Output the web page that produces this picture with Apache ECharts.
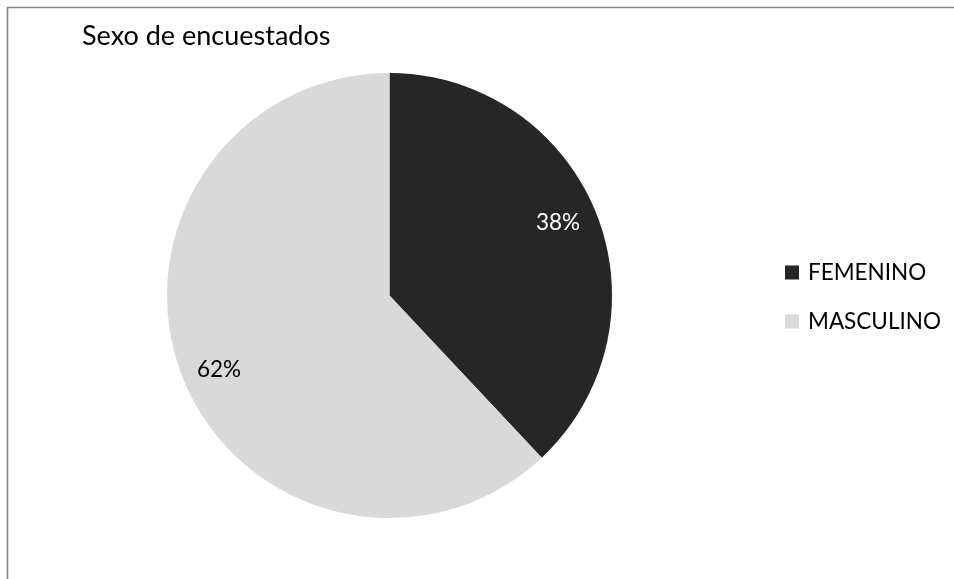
<!DOCTYPE html>
<html>
<head>
<meta charset="utf-8">
<script src="https://cdn.jsdelivr.net/npm/echarts@6/dist/echarts.min.js"></script>
<style>
  html, body { margin: 0; padding: 0; background: #fff; }
  #chart { width: 954px; height: 579px; }
</style>
</head>
<body>
<div id="chart"></div>
<script>
// Survey respondents by sex (percent)
const categories = ['FEMENINO', 'MASCULINO'];
const values = [38, 62];
const sliceColors = ['#262626', '#d9d9d9'];
const labelColors = ['#ffffff', '#000000'];
const labelShift = [[0, -6], [-2, 8]];

const font = 'Lato, "Open Sans", sans-serif';
const pieData = categories.map((name, i) => ({
  name,
  value: values[i],
  itemStyle: { color: sliceColors[i] }
}));

const chart = echarts.init(document.getElementById('chart'));
chart.setOption({
  animation: false,
  title: {
    text: 'Sexo de encuestados',
    left: 77,
    top: 18,
    textStyle: { fontFamily: font, fontSize: 27, fontWeight: 'normal', color: '#000' }
  },
  legend: {
    orient: 'vertical',
    left: 780,
    top: 256,
    icon: 'rect',
    itemWidth: 14,
    itemHeight: 14,
    itemGap: 26,
    data: categories,
    textStyle: { fontFamily: font, fontSize: 22.5, color: '#000', lineHeight: 20, padding: [0, 0, 0, 4] }
  },
  graphic: [
    { type: 'line', shape: { x1: 7, y1: 7.5, x2: 954, y2: 7.5 }, style: { stroke: '#858585', lineWidth: 1.6 } },
    { type: 'line', shape: { x1: 7.5, y1: 7, x2: 7.5, y2: 579 }, style: { stroke: '#858585', lineWidth: 1.6 } }
  ],
  series: [
    {
      type: 'pie',
      center: [389.5, 295.5],
      radius: [0, 222.5],
      startAngle: 90,
      clockwise: true,
      label: { show: false },
      labelLine: { show: false },
      emphasis: { disabled: true },
      data: pieData
    },
    {
      // transparent ring that carries the percentage labels further out
      type: 'pie',
      center: [389.5, 295.5],
      radius: [134, 222.5],
      startAngle: 90,
      clockwise: true,
      silent: true,
      label: {
        show: true,
        position: 'inside',
        formatter: p => p.value + '%',
        fontFamily: font,
        fontSize: 22.5
      },
      labelLine: { show: false },
      emphasis: { disabled: true },
      data: categories.map((name, i) => ({
        name,
        value: values[i],
        itemStyle: { color: 'rgba(0,0,0,0)' },
        label: { color: labelColors[i], offset: labelShift[i] }
      }))
    }
  ]
});
</script>
</body>
</html>
